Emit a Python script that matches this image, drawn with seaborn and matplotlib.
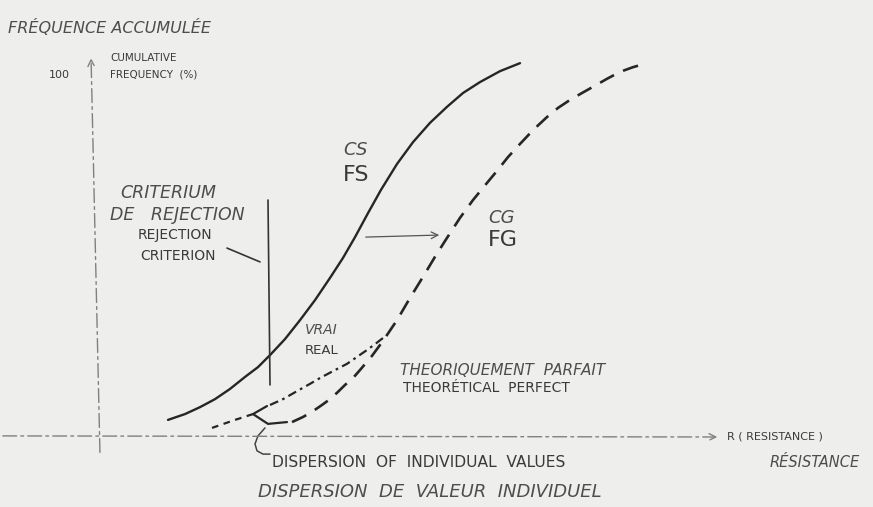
import numpy as np
import pandas as pd
import matplotlib
matplotlib.use("Agg")
import matplotlib.pyplot as plt
import seaborn as sns

# ---- data (resistance units, cumulative frequency %) ----
fs_resistance = [6.8, 8.5, 10.0, 11.5, 13.0, 14.5, 15.8, 17.0, 18.5, 20.0, 21.5, 23.0,
                 24.3, 25.5, 26.8, 28.1, 29.7, 31.3, 33.0, 34.7, 36.3, 38.0, 40.0, 42.0]
fs_frequency = [4.7, 6.3, 8.2, 10.4, 13.2, 16.5, 19.2, 22.5, 26.9, 32.1, 37.6, 43.7,
                49.2, 54.9, 61.5, 67.9, 75.0, 81.0, 86.3, 90.7, 94.5, 97.5, 100.5, 102.7]

fg_resistance = [19.2, 20.3, 21.3, 22.2, 23.0, 23.8, 24.5, 25.3, 26.0, 27.2, 28.3, 29.7,
                 31.0, 32.3, 33.5, 34.7, 36.0, 37.3, 38.7, 39.7, 40.8, 42.0, 43.3, 44.7,
                 45.8, 47.0, 48.2, 49.3, 50.7, 52.0, 53.3, 54.7]
fg_frequency = [4.1, 5.5, 7.1, 8.8, 10.4, 12.4, 14.3, 16.2, 18.4, 22.3, 26.4, 32.1,
                38.2, 44.0, 49.5, 54.7, 60.2, 65.1, 69.8, 73.1, 76.9, 80.5, 84.3, 87.9,
                90.4, 92.6, 94.5, 96.2, 98.4, 100.3, 101.6, 102.7]

real_low_resistance = [11.2, 13.5, 15.3]
real_low_frequency = [2.5, 4.7, 6.3]
real_high_resistance = [17.0, 18.3, 19.7, 21.0, 22.0, 23.3, 24.7, 25.7, 26.7, 27.5, 28.3]
real_high_frequency = [8.8, 10.4, 12.6, 14.6, 16.2, 18.1, 20.1, 22.0, 23.9, 25.5, 27.2]

hook_resistance = [16.7, 15.3, 16.8, 18.7]
hook_frequency = [8.5, 6.3, 3.6, 4.1]

bracket_resistance = [16.5, 15.8, 15.5, 15.7, 16.3, 17.0]
bracket_frequency = [2.5, 0.3, -1.9, -3.8, -4.7, -4.7]

rejection_resistance = [16.8, 17.0]
rejection_frequency = [65.1, 14.3]

y_tick_label = "100"

sns.set_theme(style="white")
plt.rcParams["font.family"] = ["DejaVu Sans"]

paper = "#eeeeec"
ink = "#262626"
fig = plt.figure(figsize=(8.73, 5.07), dpi=100, facecolor=paper)
ax = fig.add_axes([0, 0, 1, 1])
ax.set_facecolor(paper)
ax.set_xlim(-10, 77.3)
ax.set_ylim(-19.23, 120.05)
ax.axis("off")

# axes of the sketch
ax.annotate("", xy=(62.0, 0.0), xytext=(-10.0, 0.3),
            arrowprops=dict(arrowstyle="->", color="#808080", lw=1.0,
                            linestyle=(0, (10, 3, 2, 3))))
ax.annotate("", xy=(-0.9, 104.8), xytext=(0.0, -5.0),
            arrowprops=dict(arrowstyle="->", color="#808080", lw=1.0,
                            linestyle=(0, (10, 3, 2, 3))))

def draw(xs, ys, **kw):
    df = pd.DataFrame({"x": xs, "y": ys})
    sns.lineplot(data=df, x="x", y="y", sort=False, estimator=None, ax=ax,
                 legend=False, **kw)

draw(fs_resistance, fs_frequency, color=ink, lw=1.7)
draw(fg_resistance, fg_frequency, color=ink, lw=1.9, linestyle=(0, (6, 3.8)))
draw(real_low_resistance, real_low_frequency, color=ink, lw=1.6, linestyle=(0, (3, 2.5)))
draw(real_high_resistance, real_high_frequency, color=ink, lw=1.6, linestyle=(0, (4, 2, 1.2, 2)))
draw(hook_resistance, hook_frequency, color=ink, lw=1.6)
draw(bracket_resistance, bracket_frequency, color="#444444", lw=1.1)
draw(rejection_resistance, rejection_frequency, color="#333333", lw=1.2)

# rejection pointer and shift arrow
ax.plot([12.7, 16.0], [51.9, 48.1], color="#333333", lw=1.2)
ax.annotate("", xy=(34.2, 55.5), xytext=(26.3, 54.9),
            arrowprops=dict(arrowstyle="->", color="#555555", lw=0.9))

hand = dict(color="#4d4d4d", fontstyle="italic", va="center", ha="left")
printed = dict(color="#3a3a3a", va="center", ha="left")

ax.text(-9.2, 112.4, "FRÉQUENCE ACCUMULÉE", fontsize=11.5, **hand)
ax.text(1.0, 104.1, "CUMULATIVE", fontsize=7.5, **printed)
ax.text(1.0, 99.5, "FREQUENCY  (%)", fontsize=7.5, **printed)
ax.text(-3.0, 99.5, y_tick_label, fontsize=8, color="#3a3a3a", va="center", ha="right")

ax.text(2.0, 67.0, "CRITERIUM", fontsize=12.5, **hand)
ax.text(1.0, 61.0, "DE   REJECTION", fontsize=12.5, **hand)
ax.text(3.8, 55.5, "REJECTION", fontsize=10, **printed)
ax.text(4.0, 49.7, "CRITERION", fontsize=10, **printed)

ax.text(24.3, 78.8, "CS", fontsize=13, **hand)
ax.text(24.3, 72.0, "FS", fontsize=16, **printed)
ax.text(38.8, 60.2, "CG", fontsize=13, **hand)
ax.text(38.8, 54.1, "FG", fontsize=16, **printed)

ax.text(20.5, 29.4, "VRAI", fontsize=10, **hand)
ax.text(20.5, 23.9, "REAL", fontsize=9.5, **printed)

ax.text(30.0, 18.4, "THEORIQUEMENT  PARFAIT", fontsize=11, **hand)
ax.text(30.3, 13.5, "THEORÉTICAL  PERFECT", fontsize=10, **printed)

ax.text(62.7, 0.0, "R ( RESISTANCE )", fontsize=8, **printed)
ax.text(67.0, -7.1, "RÉSISTANCE", fontsize=10.5, **hand)

ax.text(17.2, -7.1, "DISPERSION  OF  INDIVIDUAL  VALUES", fontsize=11.2, **printed)
ax.text(15.8, -15.1, "DISPERSION  DE  VALEUR  INDIVIDUEL", fontsize=13, **hand)

fig.savefig("out.png", dpi=100, facecolor=paper)
